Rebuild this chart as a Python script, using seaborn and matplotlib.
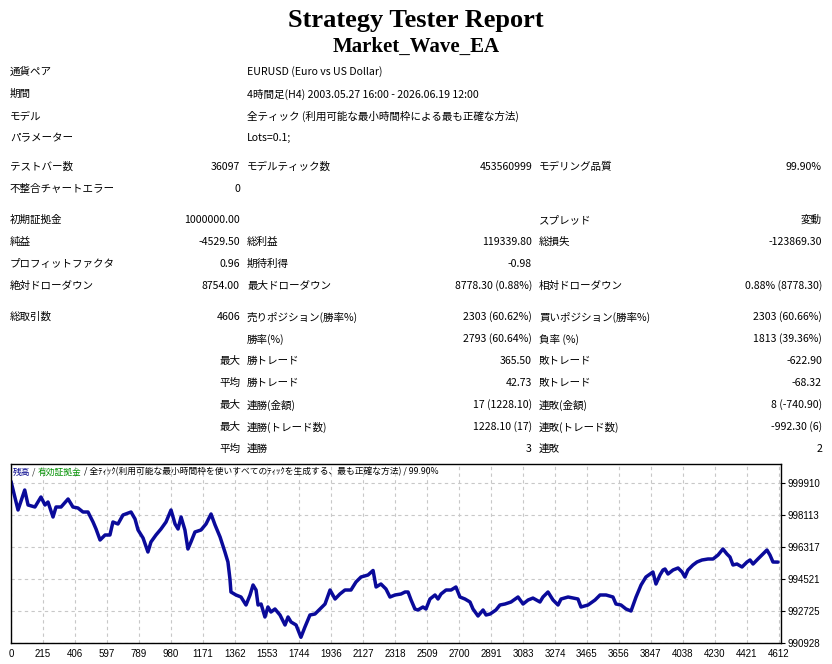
import matplotlib
matplotlib.use('Agg')
import matplotlib.pyplot as plt
import seaborn as sns

# equity curve (trade number, equity)
trades = [24, 66, 106, 126, 167, 203, 227, 245, 275, 293, 323, 365, 394, 424, 454, 484,
          514, 532, 556, 586, 615, 633, 663, 693, 741, 765, 783, 813, 842, 860, 890, 920,
          950, 980, 1004, 1022, 1040, 1063, 1081, 1099, 1123, 1159, 1189, 1219, 1243, 1273,
          1302, 1320, 1332, 1338, 1368, 1398, 1428, 1452, 1470, 1488, 1500, 1518, 1541, 1559,
          1577, 1601, 1631, 1661, 1679, 1697, 1727, 1756, 1780, 1810, 1840, 1870, 1900, 1930,
          1960, 1989, 2019, 2055, 2085, 2115, 2157, 2187, 2205, 2234, 2264, 2288, 2318, 2354,
          2378, 2396, 2414, 2437, 2455, 2485, 2503, 2527, 2557, 2575, 2593, 2623, 2653, 2682,
          2706, 2736, 2766, 2784, 2814, 2844, 2862, 2886, 2921, 2945, 2975, 3011, 3053, 3083,
          3113, 3142, 3184, 3202, 3232, 3262, 3292, 3310, 3352, 3411, 3429, 3471, 3513, 3543,
          3579, 3620, 3638, 3668, 3698, 3728, 3758, 3788, 3817, 3859, 3877, 3901, 3919, 3931,
          3949, 3979, 4009, 4033, 4050, 4068, 4098, 4122, 4152, 4188, 4218, 4248, 4277, 4301,
          4319, 4337, 4361, 4391, 4421, 4439, 4457, 4486, 4516, 4540, 4558, 4576, 4606]
equity = [1000000, 998395, 999517, 998675, 998563, 999124, 998675, 998844, 998002, 998563,
          998563, 999012, 998563, 998507, 998282, 998282, 997721, 997328, 996710, 996991,
          996991, 997721, 997609, 998114, 998282, 997889, 997272, 996820, 996037, 996598,
          996991, 997328, 997721, 998395, 997609, 997328, 998002, 997272, 996205, 996598,
          997160, 997272, 997609, 998170, 997553, 996879, 996037, 995475, 994521, 993791,
          993623, 993510, 993061, 993623, 994184, 993903, 993061, 993117, 992388, 992950,
          992668, 992837, 992500, 991939, 992388, 992107, 991939, 991250, 991826, 992500,
          992556, 992837, 993117, 993903, 993398, 993679, 993903, 993903, 994353, 994633,
          994746, 995000, 994072, 994240, 993960, 993510, 993623, 993679, 993791, 993791,
          993342, 992837, 992781, 992949, 992837, 993398, 993623, 993398, 993679, 993903,
          993903, 994072, 993510, 993398, 993230, 992837, 992444, 992781, 992500, 992556,
          992781, 993061, 993117, 993230, 993510, 993117, 993342, 993450, 993230, 993510,
          993791, 993342, 993061, 993398, 993510, 993398, 992949, 993061, 993342, 993623,
          993623, 993510, 993117, 993061, 992837, 992724, 993510, 994184, 994633, 994914,
          994240, 994746, 995026, 995082, 994802, 995026, 995139, 994914, 994633, 995026,
          995307, 995475, 995588, 995644, 995644, 995868, 996205, 995924, 995756, 995307,
          995363, 995195, 995475, 995588, 995363, 995644, 995924, 996149, 995868, 995475,
          995470]

x_tick_labels = ['0', '215', '406', '597', '789', '980', '1171', '1362', '1553', '1744',
                 '1936', '2127', '2318', '2509', '2700', '2891', '3083', '3274', '3465',
                 '3656', '3847', '4038', '4230', '4421', '4612']
y_ticks = [990928, 992725, 994521, 996317, 998113, 999910]

title = 'Strategy Tester Report'
ea_name = 'Market_Wave_EA'

info_labels = ['通貨ペア', '期間', 'モデル', 'パラメーター']
info_values = ['EURUSD (Euro vs US Dollar)',
               '4時間足(H4) 2003.05.27 16:00 - 2026.06.19 12:00',
               '全ティック (利用可能な最小時間枠による最も正確な方法)',
               'Lots=0.1;']

stats_rows = [
    ('テストバー数', '36097', 'モデルティック数', '453560999', 'モデリング品質', '99.90%'),
    ('不整合チャートエラー', '0', '', '', '', ''),
    ('初期証拠金', '1000000.00', '', '', 'スプレッド', '変動'),
    ('純益', '-4529.50', '総利益', '119339.80', '総損失', '-123869.30'),
    ('プロフィットファクタ', '0.96', '期待利得', '-0.98', '', ''),
    ('絶対ドローダウン', '8754.00', '最大ドローダウン', '8778.30 (0.88%)', '相対ドローダウン', '0.88% (8778.30)'),
    ('総取引数', '4606', '売りポジション(勝率%)', '2303 (60.62%)', '買いポジション(勝率%)', '2303 (60.66%)'),
    ('', '', '勝率(%)', '2793 (60.64%)', '負率 (%)', '1813 (39.36%)'),
    ('', '最大', '勝トレード', '365.50', '敗トレード', '-622.90'),
    ('', '平均', '勝トレード', '42.73', '敗トレード', '-68.32'),
    ('', '最大', '連勝(金額)', '17 (1228.10)', '連敗(金額)', '8 (-740.90)'),
    ('', '最大', '連勝(トレード数)', '1228.10 (17)', '連敗(トレード数)', '-992.30 (6)'),
    ('', '平均', '連勝', '3', '連敗', '2'),
]

legend_parts = [('残高', '#00008b'), (' / ', '#333333'), ('有効証拠金', '#009000'),
                (' / 全ﾃｨｯｸ(利用可能な最小時間枠を使いすべてのﾃｨｯｸを生成する、最も正確な方法) / 99.90%', 'black')]

sns.set_style('white')
plt.rcParams['font.family'] = ['Noto Sans CJK JP', 'DejaVu Sans']
plt.rcParams['text.color'] = 'black'
jp = ['Noto Sans CJK JP', 'DejaVu Sans']

W, H = 832, 664
fig = plt.figure(figsize=(W / 100, H / 100), dpi=100)
fig.patch.set_facecolor('white')

def fx(x):
    return x / W

def fy(y):
    return 1 - y / H

fig.text(fx(416), fy(20), title, ha='center', va='center', family='Liberation Serif',
         weight='bold', size=19, color='black')
fig.text(fx(416), fy(47), ea_name, ha='center', va='center', family='Liberation Serif',
         weight='bold', size=15, color='black')

fs = 7.6
for lab, val, y in zip(info_labels, info_values, [72, 94, 116, 138]):
    fig.text(fx(10), fy(y), lab, ha='left', va='center', family=jp, size=fs)
    fig.text(fx(247), fy(y), val, ha='left', va='center', family=jp, size=fs)

row_y = [167, 189, 220, 242, 264, 286, 317, 339, 361, 383, 405, 427, 449]
for row, y in zip(stats_rows, row_y):
    l1, v1, l2, v2, l3, v3 = row
    fig.text(fx(10), fy(y), l1, ha='left', va='center', family=jp, size=fs)
    fig.text(fx(240), fy(y), v1, ha='right', va='center', family=jp, size=fs)
    fig.text(fx(247), fy(y), l2, ha='left', va='center', family=jp, size=fs)
    fig.text(fx(532), fy(y), v2, ha='right', va='center', family=jp, size=fs)
    fig.text(fx(539), fy(y), l3, ha='left', va='center', family=jp, size=fs)
    fig.text(fx(822), fy(y), v3, ha='right', va='center', family=jp, size=fs)

# equity graph
ax = fig.add_axes([fx(11), fy(643), 770 / W, 179 / H])
sns.lineplot(x=trades, y=equity, estimator=None, sort=False, color='#0a0a9a',
             linewidth=2.5, ax=ax)
x_tick_pos = [24] + [int(t) for t in x_tick_labels[1:]]
ax.set_xlim(24, 4624)
ax.set_ylim(990928, 1000977)
ax.set_xticks(x_tick_pos)
ax.set_xticklabels(x_tick_labels)
ax.set_yticks(y_ticks)
ax.set_yticklabels([str(v) for v in y_ticks])
ax.yaxis.tick_right()
ax.set_xlabel('')
ax.set_ylabel('')
ax.grid(True, color='#c8c8c8', linestyle=(0, (3, 3)), linewidth=0.8)
for s in ax.spines.values():
    s.set_color('black')
    s.set_linewidth(1.0)
ax.tick_params(axis='both', direction='out', length=3, width=0.8, labelsize=7,
               colors='black', pad=1.5)
for lbl in ax.get_xticklabels() + ax.get_yticklabels():
    lbl.set_family(['Liberation Sans', 'DejaVu Sans'])

# coloured caption inside the graph
renderer = fig.canvas.get_renderer()
x0 = fx(13)
for txt, col in legend_parts:
    t = fig.text(x0, fy(472), txt, ha='left', va='center', family=jp, size=6.3, color=col)
    bb = t.get_window_extent(renderer=renderer)
    x0 = bb.x1 / W

fig.savefig('out.png', dpi=100, facecolor='white')
